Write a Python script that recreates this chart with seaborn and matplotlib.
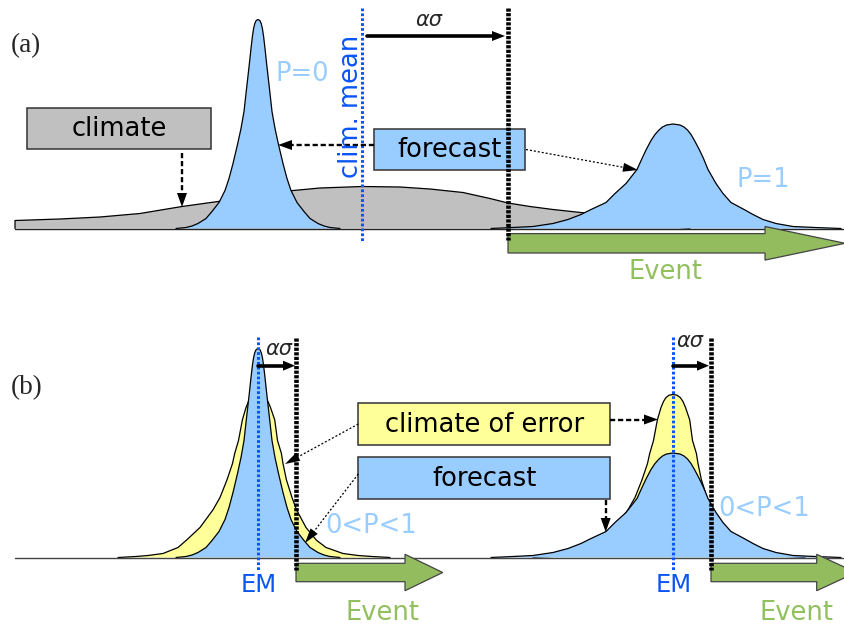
import numpy as np
import matplotlib
matplotlib.use("Agg")
import matplotlib.pyplot as plt
import seaborn as sns
from matplotlib.patches import Polygon, Rectangle

# ---------------- values (pixel units) ----------------
# Panel (a) climate pdf (grey): x position and height above the baseline
climate_x = [15, 15, 60, 100, 140, 182, 218, 250, 288, 320, 362, 400, 430, 463,
             490, 508, 530, 553, 590, 620, 650, 690]
climate_h = [0, 8, 9.5, 11.5, 15, 22, 27, 32, 37.5, 40.5, 42, 41.5, 39.5, 36,
             30, 25.5, 22, 19, 15, 9, 4, 0]

# Sharp forecast pdf: height and half-width at that height
sharp_h = [0, 1, 2.5, 5, 10, 17, 26, 38, 50, 65, 84, 100, 117, 135, 150, 165,
           180, 192, 200, 205, 208, 209]
sharp_w = [82, 72, 66, 60, 52, 46, 39, 33, 29, 25, 20.5, 17, 14, 12, 10.3, 8.6,
           7, 5.6, 4.4, 3.2, 1.8, 0]

# Broad forecast pdf: height, left and right half-widths
broad_h = [0, 1, 2, 5, 9, 14, 18.5, 26, 35, 45, 59, 70, 78.5, 88, 94, 98.5,
           101.5, 103.5, 104.5]
broad_wl = [182, 160, 140, 120, 105, 92, 83, 67, 58, 47, 36, 31, 27, 22, 18,
            14, 10.5, 6.5, 0]
broad_wr = [168, 142, 120, 103, 90, 80, 72, 58, 50, 43, 35, 30.5, 26.5, 21.5,
            18, 14.5, 11, 7, 0]

# Climate-of-error pdf (yellow): height, left and right half-widths
error_h = [0, 1, 2, 4, 10, 17.3, 30, 47.7, 60, 77.7, 94, 104, 117, 137.7, 150,
           156, 160, 162.3, 163]
error_wl = [140, 122, 110, 95, 80, 71.6, 58, 45, 38, 31, 25.5, 23.3, 19.5, 15.6,
            12, 9.5, 7, 4, 0]
error_wr = [132, 114, 100, 85, 68, 58.4, 48, 38.5, 34, 28.4, 25, 23.4, 19.5,
            16.7, 12.5, 10, 7.2, 4, 0]

# Positions of the distributions / lines
base_a, base_b = 228.5, 557.5
sharp_center = 258
broad_center = 673
clim_mean_x = 362
threshold_a = 508
threshold_b = [296, 711]
em_x = [258, 673]

# Text labels
panel_labels = ["(a)", "(b)"]
box_labels_a = ["climate", "forecast"]
box_labels_b = ["climate of error", "forecast"]
prob_labels = ["P=0", "P=1", "0<P<1"]

# ---------------- colours ----------------
C_BLUE_FILL = "#99ccff"
C_GREY = "#c0c0c0"
C_YELLOW = "#ffff99"
C_GREEN = "#92bc5d"
C_GREEN_TXT = "#92c05e"
C_LINE_BLUE = "#0a55f5"
C_EDGE = "#333333"

sns.set_theme(style="white")
plt.rcParams["font.family"] = ["DejaVu Sans"]

fig = plt.figure(figsize=(8.45, 6.32), dpi=100)
ax = fig.add_axes([0, 0, 1, 1])


def profile(center, h, wl, wr):
    h = np.asarray(h, float)
    xl = center - np.asarray(wl, float)
    xr = center + np.asarray(wr, float)
    x = np.concatenate([xl, xr[::-1][1:]])
    y = np.concatenate([h, h[::-1][1:]])
    return x, y


def draw_pdf(x, h, base, color, z):
    y = base - np.asarray(h, float)
    ax.fill(x, y, color=color, zorder=z, lw=0)
    sns.lineplot(x=x, y=y, sort=False, estimator=None, color="black",
                 lw=0.9, ax=ax, zorder=z + 0.1)


def head(tip, start, length, width, z=8):
    tip = np.asarray(tip, float)
    d = tip - np.asarray(start, float)
    d /= np.hypot(*d)
    n = np.array([-d[1], d[0]])
    b = tip - d * length
    ax.add_patch(Polygon([tip, b + n * width / 2, b - n * width / 2],
                         closed=True, color="black", zorder=z, lw=0))


def arrow(start, tip, lw, dash, hl=14, hw=10, z=8):
    start = np.asarray(start, float)
    tip = np.asarray(tip, float)
    d = tip - start
    d /= np.hypot(*d)
    end = tip - d * hl * 0.7
    ls = "-" if dash is None else (0, dash)
    ax.plot([start[0], end[0]], [start[1], end[1]], color="black", lw=lw,
            linestyle=ls, dash_capstyle="butt", zorder=z)
    head(tip, start, hl, hw, z)


def green_arrow(x0, xh, xt, yc, bh, hh):
    pts = [(x0, yc - bh), (xh, yc - bh), (xh, yc - hh), (xt, yc),
           (xh, yc + hh), (xh, yc + bh), (x0, yc + bh)]
    ax.add_patch(Polygon(pts, closed=True, facecolor=C_GREEN, edgecolor="#444444",
                         lw=0.9, zorder=4))


def box(x0, x1, y0, y1, color, label):
    ax.add_patch(Rectangle((x0, y0), x1 - x0, y1 - y0, facecolor=color,
                           edgecolor=C_EDGE, lw=1.1, zorder=5))
    ax.text((x0 + x1) / 2, (y0 + y1) / 2 + 1, label, ha="center", va="center",
            fontsize=18.5, color="black", zorder=6)


BLACK_DOTS = (0, (0.7, 0.3))
BLUE_DOTS = (0, (0.9, 0.7))
THICK_DASH = (2.2, 1.2)
THIN_DOT = (1.6, 1.6)

# ================= panel (a) =================
draw_pdf(np.asarray(climate_x, float), climate_h, base_a, C_GREY, 1)
sx, sy = profile(sharp_center, sharp_h, sharp_w, sharp_w)
draw_pdf(sx, sy, base_a, C_BLUE_FILL, 2)
bx, by = profile(broad_center, broad_h, broad_wl, broad_wr)
draw_pdf(bx, by, base_a, C_BLUE_FILL, 2)
ax.plot([15, 845], [base_a, base_a], color="#222222", lw=1.0, zorder=3)

green_arrow(threshold_a, 765, 845, 243.3, 9.7, 16.8)
ax.plot([clim_mean_x, clim_mean_x], [8, 241], color=C_LINE_BLUE, lw=2.2,
        linestyle=BLUE_DOTS, dash_capstyle="butt", zorder=7)

box(27, 211, 107.7, 149.3, C_GREY, box_labels_a[0])
box(374, 525, 128.7, 170, C_BLUE_FILL, box_labels_a[1])

ax.plot([threshold_a, threshold_a], [8, 240], color="black", lw=3.3,
        linestyle=BLACK_DOTS, dash_capstyle="butt", zorder=7)

arrow((182, 153), (182, 207), 1.7, THICK_DASH)
arrow((374, 145), (278, 145), 1.7, THICK_DASH)
arrow((526, 149.5), (638, 170), 0.9, THIN_DOT, hl=15, hw=9)
arrow((367, 36), (505, 36), 2.6, None, hl=13, hw=10)

ax.text(429, 20, "ασ", fontsize=15, style="italic", ha="center", va="center", zorder=9)
ax.text(351, 106, "clim. mean", rotation=90, fontsize=18.5, color=C_LINE_BLUE,
        ha="center", va="center", zorder=9)
ax.text(302, 74, prob_labels[0], fontsize=18.5, color=C_BLUE_FILL, ha="center", va="center")
ax.text(763, 180, prob_labels[1], fontsize=18.5, color=C_BLUE_FILL, ha="center", va="center")
ax.text(666, 272, "Event", fontsize=18.5, color=C_GREEN_TXT, ha="center", va="center")
ax.text(11, 46, panel_labels[0], family="Liberation Serif", fontsize=19.5,
        ha="left", va="center")

# ================= panel (b) =================
for c in em_x:
    ex, ey = profile(c, error_h, error_wl, error_wr)
    draw_pdf(ex, ey, base_b, C_YELLOW, 1.5)
sx, sy = profile(em_x[0], sharp_h, sharp_w, sharp_w)
draw_pdf(sx, sy, base_b, C_BLUE_FILL, 2)
bx, by = profile(em_x[1], broad_h, broad_wl, broad_wr)
draw_pdf(bx, by, base_b, C_BLUE_FILL, 2)
ax.plot([15, 845], [base_b, base_b], color="#444444", lw=1.0, zorder=3)

green_arrow(threshold_b[0], 405, 442.7, 572.5, 9.2, 18.2)
green_arrow(threshold_b[1], 816.7, 856, 572.5, 9.2, 18.2)

for c in em_x:
    ax.plot([c, c], [337, 570], color=C_LINE_BLUE, lw=2.2, linestyle=BLUE_DOTS,
            dash_capstyle="butt", zorder=7)
for t in threshold_b:
    ax.plot([t, t], [338, 570], color="black", lw=3.3, linestyle=BLACK_DOTS,
            dash_capstyle="butt", zorder=7)

box(358.3, 610, 403.3, 445.3, C_YELLOW, box_labels_b[0])
box(358.3, 610, 457.3, 499.3, C_BLUE_FILL, box_labels_b[1])

arrow((610, 419.5), (658, 419.5), 1.7, THICK_DASH)
arrow((605.7, 500), (605.7, 532), 1.7, THICK_DASH)
arrow((358.3, 424), (285, 464), 0.9, THIN_DOT, hl=15, hw=9)
arrow((358.3, 474), (305, 543), 0.9, THIN_DOT, hl=15, hw=9)
arrow((em_x[0], 365.7), (threshold_b[0] - 1, 365.7), 2.6, None, hl=12, hw=10)
arrow((em_x[1], 365.7), (threshold_b[1] - 2, 365.7), 2.6, None, hl=12, hw=10)

ax.text(279, 349, "ασ", fontsize=15, style="italic", ha="center", va="center", zorder=9)
ax.text(690, 341, "ασ", fontsize=15, style="italic", ha="center", va="center", zorder=9)
for c in em_x:
    ax.text(c + 0.5, 585, "EM", fontsize=17.5, color=C_LINE_BLUE, ha="center", va="center")
ax.text(371, 526, prob_labels[2], fontsize=18.5, color=C_BLUE_FILL, ha="center", va="center")
ax.text(764, 509, prob_labels[2], fontsize=18.5, color=C_BLUE_FILL, ha="center", va="center")
ax.text(383, 613, "Event", fontsize=18.5, color=C_GREEN_TXT, ha="center", va="center")
ax.text(797, 613, "Event", fontsize=18.5, color=C_GREEN_TXT, ha="center", va="center")
ax.text(11, 388, panel_labels[1], family="Liberation Serif", fontsize=19.5,
        ha="left", va="center")

ax.set_xlim(0, 845)
ax.set_ylim(632, 0)
ax.axis("off")
fig.savefig("out.png", dpi=100)
